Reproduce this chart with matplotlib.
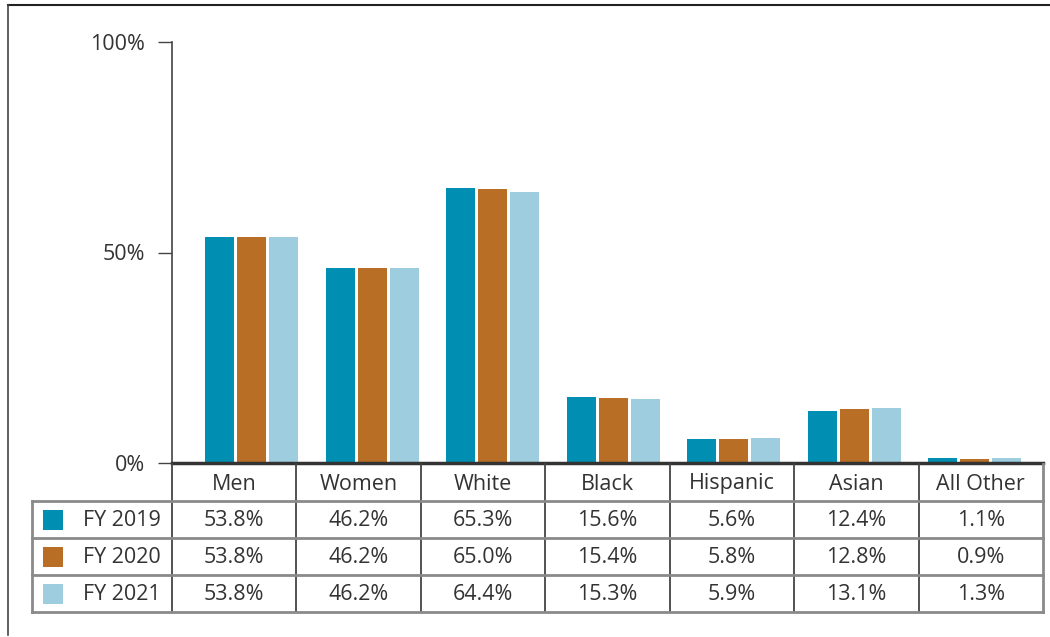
import matplotlib
matplotlib.use("Agg")
import matplotlib.pyplot as plt
from matplotlib.patches import Rectangle

categories = ["Men", "Women", "White", "Black", "Hispanic", "Asian", "All Other"]
series_names = ["FY 2019", "FY 2020", "FY 2021"]
fy2019 = [53.8, 46.2, 65.3, 15.6, 5.6, 12.4, 1.1]
fy2020 = [53.8, 46.2, 65.0, 15.4, 5.8, 12.8, 0.9]
fy2021 = [53.8, 46.2, 64.4, 15.3, 5.9, 13.1, 1.3]
yticks = [0, 50, 100]
ytick_labels = ["0%", "50%", "100%"]
colors = ["#008fb3", "#b86e24", "#9ecddf"]

series = [fy2019, fy2020, fy2021]

W, H = 1050, 637
plt.rcParams['font.family'] = ['Open Sans', 'DejaVu Sans']
fig = plt.figure(figsize=(W / 100, H / 100), dpi=100)

# chart axes in pixel positions
ax_l, ax_r, ax_t, ax_b = 172, 1043, 42, 463
ax = fig.add_axes([ax_l / W, 1 - ax_b / H, (ax_r - ax_l) / W, (ax_b - ax_t) / H])

spacing = 120.5
c0 = 251.5
xlim = ((ax_l - c0) / spacing, (ax_r - c0) / spacing)
bw = 29 / spacing
off = 32 / spacing
for k, vals in enumerate(series):
    xs = [i + (k - 1) * off for i in range(len(categories))]
    ax.bar(xs, vals, width=bw, color=colors[k], zorder=2)

ax.set_xlim(*xlim)
ax.set_ylim(0, 100)
ax.set_yticks(yticks)
ax.set_yticklabels(ytick_labels, fontsize=15.5, color="#333333")
ax.set_xticks([])
for s in ["top", "right"]:
    ax.spines[s].set_visible(False)
ax.spines["left"].set_color("#444444")
ax.spines["left"].set_linewidth(1.2)
ax.spines["bottom"].set_color("#333333")
ax.spines["bottom"].set_linewidth(2.5)
ax.spines["bottom"].set_zorder(3)
ax.tick_params(axis="y", length=10, width=1.0, color="#444444", pad=9.5)

# overlay for table and border
ov = fig.add_axes([0, 0, 1, 1], zorder=5)
ov.set_xlim(0, W)
ov.set_ylim(H, 0)
ov.axis("off")
ov.patch.set_alpha(0)

grid = "#8a8a8a"
dark = "#444444"
txt = "#333333"
# border
ov.plot([8, W], [5, 5], color="#222222", lw=1.5)
ov.plot([8, 8], [5, 635], color="#444444", lw=1.2)

col_w = (ax_r - ax_l) / len(categories)
row_y = [463, 501, 538, 575, 612]
# vertical lines
for i in range(len(categories) + 1):
    x = ax_l + i * col_w
    last = i == len(categories)
    ov.plot([x, x], [464, 612], color=grid if last else dark, lw=2 if last else 1.3)
# horizontal lines
for y in row_y[1:]:
    ov.plot([32, ax_r], [y, y], color=grid, lw=2)
ov.plot([32, 32], [501, 612], color=grid, lw=2)

for i, c in enumerate(categories):
    ov.text(ax_l + (i + 0.5) * col_w, 484, c, ha="center", va="center", fontsize=15.5, color=txt)
for k, vals in enumerate(series):
    yc = (row_y[k + 1] + row_y[k + 2]) / 2 + 1
    ov.add_patch(Rectangle((43, yc - 11), 20, 20, color=colors[k], lw=0))
    ov.text(161, yc, series_names[k], ha="right", va="center", fontsize=15.5, color=txt)
    for i, v in enumerate(vals):
        ov.text(ax_l + (i + 0.5) * col_w, yc, f"{v:.1f}%", ha="center", va="center", fontsize=15.5, color=txt)

fig.savefig("out.png", dpi=100)
